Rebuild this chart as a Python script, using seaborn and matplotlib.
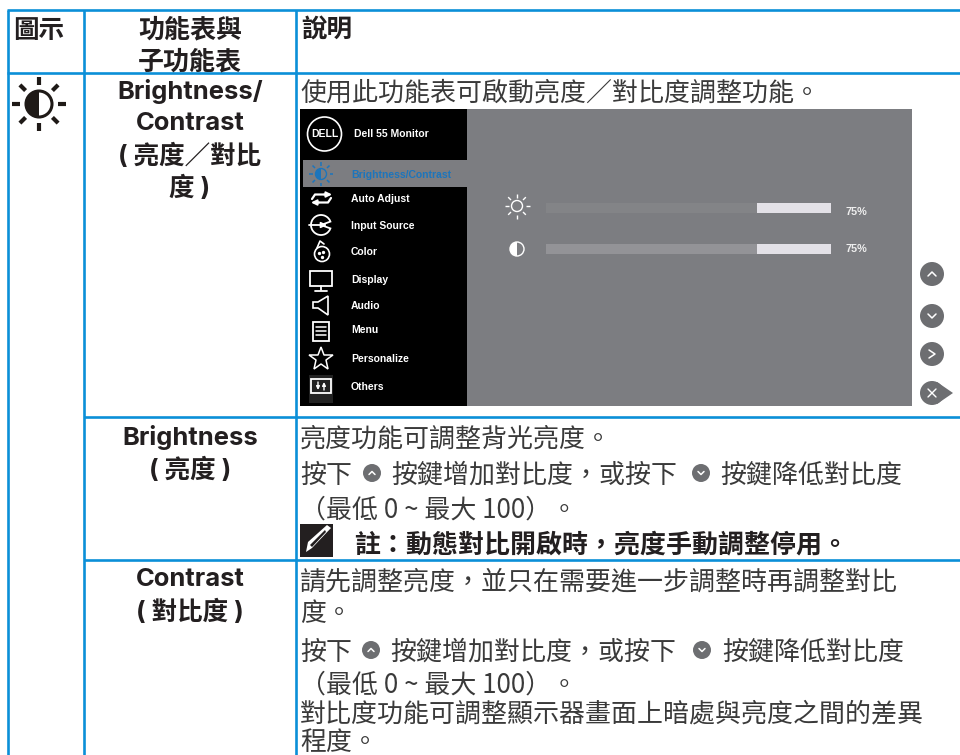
import numpy as np
import pandas as pd
import seaborn as sns
import matplotlib.pyplot as plt
from matplotlib.patches import Circle, Wedge, Rectangle, Polygon

# Table text
header_icon = '圖示'
header_menu = ['功能表與', '子功能表']
header_desc = '說明'
menu_labels = ['Brightness/', 'Contrast', '( 亮度／對比', '度 )']
menu_rows = [92, 124, 156, 188]
sub_labels = ['Brightness', '( 亮度 )', 'Contrast', '( 對比度 )']
sub_rows = [438, 470, 580, 612]

body_lines = ['使用此功能表可啟動亮度／對比度調整功能。', '亮度功能可調整背光亮度。', '（最低 0 ~ 最大 100）。',
              '請先調整亮度，並只在需要進一步調整時再調整對比', '度。', '（最低 0 ~ 最大 100）。',
              '對比度功能可調整顯示器畫面上暗處與亮度之間的差異', '程度。']
body_rows = [93, 439, 510, 582, 614, 685, 714, 743]
note_text = '註：動態對比開啟時，亮度手動調整停用。'

# OSD menu
osd_title = 'Dell 55 Monitor'
osd_items = ['Brightness/Contrast', 'Auto Adjust', 'Input Source', 'Color', 'Display',
             'Audio', 'Menu', 'Personalize', 'Others']
osd_rows = [175, 199, 226, 252, 280, 306, 330, 359, 387]

# Sliders
slider_names = ['Brightness', 'Contrast']
slider_fill = [74, 74]
slider_full = [100, 100]
slider_text = ['75%', '75%']

line_col = '#0b8fd8'
ink = '#231f20'
body_ink = '#3a3a3a'
panel = '#7c7d81'
button = '#6d6e71'

sns.set_theme(style='white')
plt.rcParams['font.family'] = ['Noto Sans CJK TC', 'DejaVu Sans']

fig = plt.figure(figsize=(9.6, 7.55), dpi=100)
ax = fig.add_axes([0, 0, 1, 1])
ax.set_xlim(0, 960)
ax.set_ylim(755, 0)
ax.axis('off')


def rays(cx, cy, r1, r2, col, lw, n=8):
    for a in np.arange(n) * 2 * np.pi / n:
        ax.plot([cx + r1 * np.cos(a), cx + r2 * np.cos(a)], [cy + r1 * np.sin(a), cy + r2 * np.sin(a)],
                color=col, lw=lw, solid_capstyle='butt')


def half_disc(cx, cy, r, col, back, lw):
    ax.add_patch(Circle((cx, cy), r, fc=back, ec=col, lw=lw))
    ax.add_patch(Wedge((cx, cy), r, 90, 270, fc=col, ec='none'))


def round_button(cx, cy, r, d, up):
    # up/down chevron in a grey circle
    s = -1 if up else 1
    ax.add_patch(Circle((cx, cy), r, fc=button, ec='none'))
    ax.plot([cx - d, cx, cx + d], [cy - s * d / 2, cy + s * d / 2, cy - s * d / 2], color='white', lw=1.1)


def arrow(x0, y0, x1, y1, lw, size):
    ax.annotate('', xy=(x1, y1), xytext=(x0, y0),
                arrowprops=dict(arrowstyle='-|>', color='white', lw=lw, mutation_scale=size, shrinkA=0, shrinkB=0))


# table lines
for x in [8, 84, 296]:
    ax.plot([x, x], [10, 755], color=line_col, lw=1.9, solid_capstyle='butt')
for y in [10, 73]:
    ax.plot([7, 960], [y, y], color=line_col, lw=1.9, solid_capstyle='butt')
for y in [417, 560]:
    ax.plot([84, 960], [y, y], color=line_col, lw=1.9, solid_capstyle='butt')

# headers
ax.text(13, 30, header_icon, fontsize=18.4, weight='bold', color=ink, va='center')
ax.text(190, 30, header_menu[0], fontsize=18.7, weight='bold', color=ink, ha='center', va='center')
ax.text(190, 62, header_menu[1], fontsize=18.7, weight='bold', color=ink, ha='center', va='center')
ax.text(301, 30, header_desc, fontsize=18.4, weight='bold', color=ink, va='center')

# big icon
half_disc(39, 104, 13, '#1f1a17', 'white', 2.2)
rays(39, 104, 19, 27, '#1f1a17', 3)

# second column
for s, y in zip(menu_labels + sub_labels, menu_rows + sub_rows):
    ax.text(190, y, s, fontsize=18.4, weight='bold', color=ink, ha='center', va='center',
            family=['Inter', 'Noto Sans CJK TC'])

# description column
for s, y in zip(body_lines, body_rows):
    ax.text(300, y, s, fontsize=18.7, color=body_ink, va='center')

for y, xs in [(475, (372, 701, 391, 720)), (652, (371, 702, 390, 722))]:
    ax.text(300, y, '按下', fontsize=18.7, color=body_ink, va='center')
    ax.text(xs[2], y, '按鍵增加對比度，或按下', fontsize=18.7, color=body_ink, va='center')
    ax.text(xs[3], y, '按鍵降低對比度', fontsize=18.7, color=body_ink, va='center')
    round_button(xs[0], y - 2, 9, 3, True)
    round_button(xs[1], y - 2, 9, 3, False)

# note line
ax.add_patch(Rectangle((300, 524), 33, 33, fc=ink, ec='none'))
ax.add_patch(Polygon([(306, 552), (308, 542), (327, 525), (331, 528), (312, 548)], fc='white', ec='none'))
ax.add_patch(Polygon([(310, 545), (325, 530), (326, 532), (312, 547)], fc=ink, ec='none'))
ax.text(354, 545, note_text, fontsize=18.7, weight='bold', color=ink, va='center')

# OSD panel
ax.add_patch(Rectangle((300, 109), 612, 297, fc=panel, ec='none'))
ax.add_patch(Rectangle((300, 109), 167, 297, fc='black', ec='none'))
ax.add_patch(Rectangle((303, 160), 164, 27, fc=panel, ec='none'))

ax.add_patch(Circle((324.5, 134), 17, fc='none', ec='white', lw=1.2))
ax.text(324.5, 134, 'DELL', fontsize=7.5, weight='bold', color='white', ha='center', va='center',
        family='Liberation Sans')
ax.text(354, 134, osd_title, fontsize=7.5, weight='bold', color='white', va='center', family='Liberation Sans')

for i, (s, y) in enumerate(zip(osd_items, osd_rows)):
    c = '#1c75bc' if i == 0 else 'white'
    ax.text(351, y, s, fontsize=7.5, weight='bold', color=c, va='center', family='Liberation Sans')

# OSD menu icons
half_disc(321, 174, 5.5, '#1c75bc', panel, 1)
rays(321, 174, 8.5, 12, '#1c75bc', 1.1)
ax.plot([312, 315, 326], [199, 194.5, 194.5], color='white', lw=1.6)
arrow(324, 194.5, 332, 194.5, 1.4, 8)
ax.plot([331, 328, 317], [198, 202.5, 202.5], color='white', lw=1.6)
arrow(319, 202.5, 311, 202.5, 1.4, 8)
ax.add_patch(Wedge((321, 225), 10, 20, 340, fc='none', ec='white', lw=1.3))
arrow(309, 225, 327, 225, 1.3, 8)
ax.add_patch(Circle((322, 254), 7.5, fc='none', ec='white', lw=1.2))
ax.plot([317, 320, 324], [248, 241, 244], color='white', lw=1.2)
ax.plot([319, 323, 322], [253, 252, 257], ls='none', marker='o', ms=1.4, color='white')
ax.add_patch(Rectangle((310, 271), 22, 15, fc='none', ec='white', lw=1.3))
ax.plot([321, 321], [286, 290], color='white', lw=1.3)
ax.plot([315, 327], [290.5, 290.5], color='white', lw=1.3)
ax.add_patch(Polygon([(313, 302), (318, 302), (328, 296), (328, 315), (318, 308), (313, 308)],
                     fc='none', ec='white', lw=1.2))
ax.add_patch(Rectangle((313, 322), 16, 19, fc='none', ec='white', lw=1.3))
for y in [327, 331, 335]:
    ax.plot([316, 326], [y, y], color='white', lw=1.1)
ax.plot([320.5], [358.5], marker='*', ms=18, mfc='none', mec='white', mew=1.1)
ax.add_patch(Rectangle((309, 375), 24, 28, fc='#222222', ec='none'))
ax.add_patch(Rectangle((311, 379), 20, 14, fc='none', ec='white', lw=1.3))
arrow(318, 382, 318, 390, 1, 5)
arrow(324, 390, 324, 382, 1, 5)

# slider icons and labels
ax.add_patch(Circle((517, 206), 5.5, fc='none', ec='white', lw=1))
rays(517, 206, 8.5, 12.5, 'white', 1)
half_disc(517, 249, 7, 'white', panel, 1)
for s, y in zip(slider_text, [212, 249]):
    ax.text(845, y, s, fontsize=7.8, weight='bold', color='#eeeeee', va='center', family='Liberation Sans')

# sliders, drawn with seaborn in their own axes over the panel
sl = fig.add_axes([546 / 960, 1 - 269.5 / 755, 285 / 960, 82 / 755])
sl.patch.set_alpha(0)
df = pd.DataFrame({'name': slider_names, 'fill': slider_fill, 'full': slider_full})
sns.barplot(data=df, y='name', x='full', color='#e3e1e7', width=0.244, saturation=1, linewidth=0, ax=sl)
sns.barplot(data=df, y='name', x='fill', hue='name', palette=['#838487', '#939397'], width=0.244,
            saturation=1, legend=False, dodge=False, linewidth=0, ax=sl)
sl.set_xlim(0, 100)
sl.axis('off')

# right hand buttons
round_button(932, 274, 12, 4, True)
round_button(932, 316, 12, 4, False)
ax.add_patch(Circle((932, 354), 12, fc=button, ec='none'))
ax.plot([929, 935, 929], [350, 354, 358], color='white', lw=1.1)
ax.add_patch(Circle((932, 393), 12, fc=button, ec='none'))
ax.add_patch(Polygon([(937, 382), (953, 393), (937, 404)], fc=button, ec='none'))
ax.plot([928, 936], [389, 397], color='white', lw=1)
ax.plot([928, 936], [397, 389], color='white', lw=1)

fig.savefig('out.png', dpi=100)
